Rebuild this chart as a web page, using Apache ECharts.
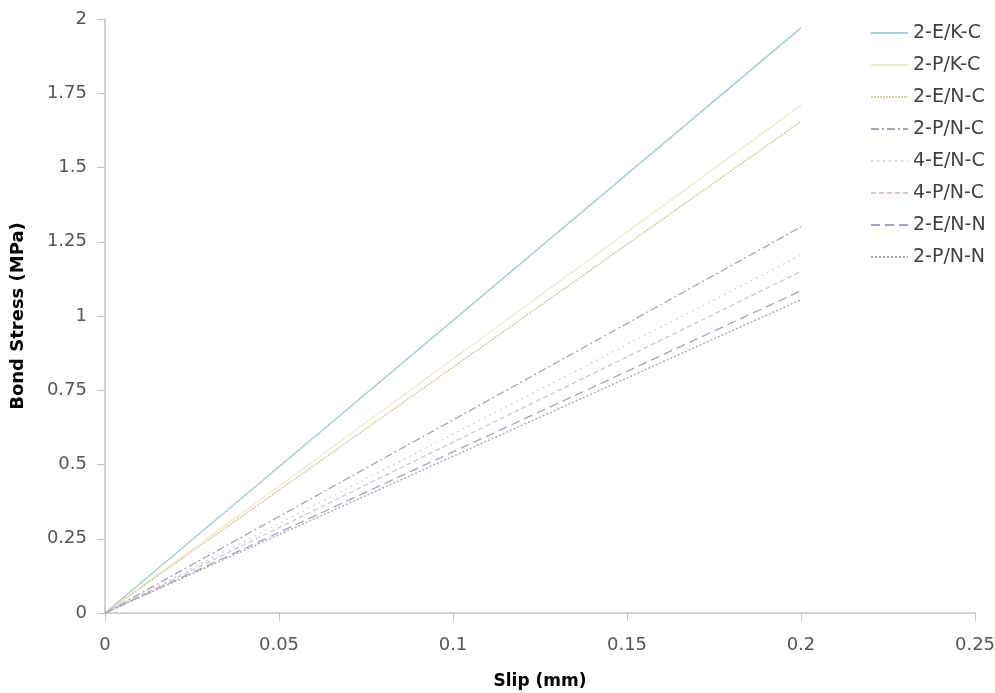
<!DOCTYPE html>
<html>
<head>
<meta charset="utf-8">
<script src="https://cdn.jsdelivr.net/npm/echarts@6/dist/echarts.min.js"></script>
<style>
  html, body { margin: 0; padding: 0; background: #fff; }
  #chart { width: 995px; height: 693px; }
</style>
</head>
<body>
<div id="chart"></div>
<script>
// 数据：滑移 (mm) 与粘结应力 (MPa)
const slip = [0, 0.2];
const seriesNames = ['2-E/K-C', '2-P/K-C', '2-E/N-C', '2-P/N-C', '4-E/N-C', '4-P/N-C', '2-E/N-N', '2-P/N-N'];
const stress_2EKC = [0, 1.97];
const stress_2PKC = [0, 1.71];
const stress_2ENC = [0, 1.655];
const stress_2PNC = [0, 1.30];
const stress_4ENC = [0, 1.205];
const stress_4PNC = [0, 1.15];
const stress_2ENN = [0, 1.085];
const stress_2PNN = [0, 1.055];
const xTicks = [0, 0.05, 0.1, 0.15, 0.2, 0.25];
const yTicks = [0, 0.25, 0.5, 0.75, 1, 1.25, 1.5, 1.75, 2];

const values = [stress_2EKC, stress_2PKC, stress_2ENC, stress_2PNC, stress_4ENC, stress_4PNC, stress_2ENN, stress_2PNN];

// 线条样式
const styles = [
    { color: '#a9ccd4', type: 'solid', width: 1.5 },
    { color: '#efebd3', type: 'solid', width: 1.5 },
    { color: '#d8cda4', type: [2, 1], width: 1.5 },
    { color: '#a3a6b8', type: [8, 3, 2, 3], width: 1.3 },
    { color: '#d2d3dc', type: [2, 4], width: 1.3 },
    { color: '#dac4cd', type: [5, 3], width: 1.3 },
    { color: '#9ea6be', type: [9, 5], width: 1.3 },
    { color: '#b8a0b7', type: [2, 2], width: 1.4 }
];

const labelFmt = v => String(+v.toFixed(2));

const chart = echarts.init(document.getElementById('chart'));

chart.setOption({
    animation: false,
    textStyle: { fontFamily: 'DejaVu Sans, sans-serif' },
    grid: { left: 105, right: 20, top: 19, bottom: 80, outerBoundsMode: 'none' },
    legend: {
        orient: 'vertical',
        left: 870,
        top: 23,
        padding: 0,
        itemWidth: 37,
        itemHeight: 20,
        itemGap: 12,
        itemStyle: { opacity: 0 },
        textStyle: { fontSize: 19, lineHeight: 20, color: '#404040' },
        data: seriesNames
    },
    xAxis: {
        type: 'value',
        min: 0,
        max: 0.25,
        interval: 0.05,
        name: 'Slip (mm)',
        nameLocation: 'middle',
        nameGap: 60,
        nameTextStyle: { fontSize: 17, fontWeight: 'bold', color: '#000' },
        axisLine: { show: true, lineStyle: { color: '#c4c4c4', width: 1.5 } },
        axisTick: { show: true, inside: false, length: 8, lineStyle: { color: '#c4c4c4' } },
        axisLabel: { fontSize: 18, color: '#555', margin: 23, formatter: labelFmt },
        splitLine: { show: false }
    },
    yAxis: {
        type: 'value',
        min: 0,
        max: 2,
        interval: 0.25,
        name: 'Bond Stress (MPa)',
        nameLocation: 'middle',
        nameGap: 78,
        nameTextStyle: { fontSize: 18, fontWeight: 'bold', color: '#000' },
        axisLine: { show: true, lineStyle: { color: '#c4c4c4', width: 1.5 } },
        axisTick: { show: true, inside: false, length: 8, lineStyle: { color: '#c4c4c4' } },
        axisLabel: { fontSize: 18, color: '#555', margin: 18, formatter: labelFmt },
        splitLine: { show: false }
    },
    series: seriesNames.map((name, i) => ({
        name: name,
        type: 'line',
        symbol: 'none',
        data: slip.map((x, j) => [x, values[i][j]]),
        itemStyle: { color: styles[i].color },
        lineStyle: { color: styles[i].color, type: styles[i].type, width: styles[i].width }
    }))
});
</script>
</body>
</html>
